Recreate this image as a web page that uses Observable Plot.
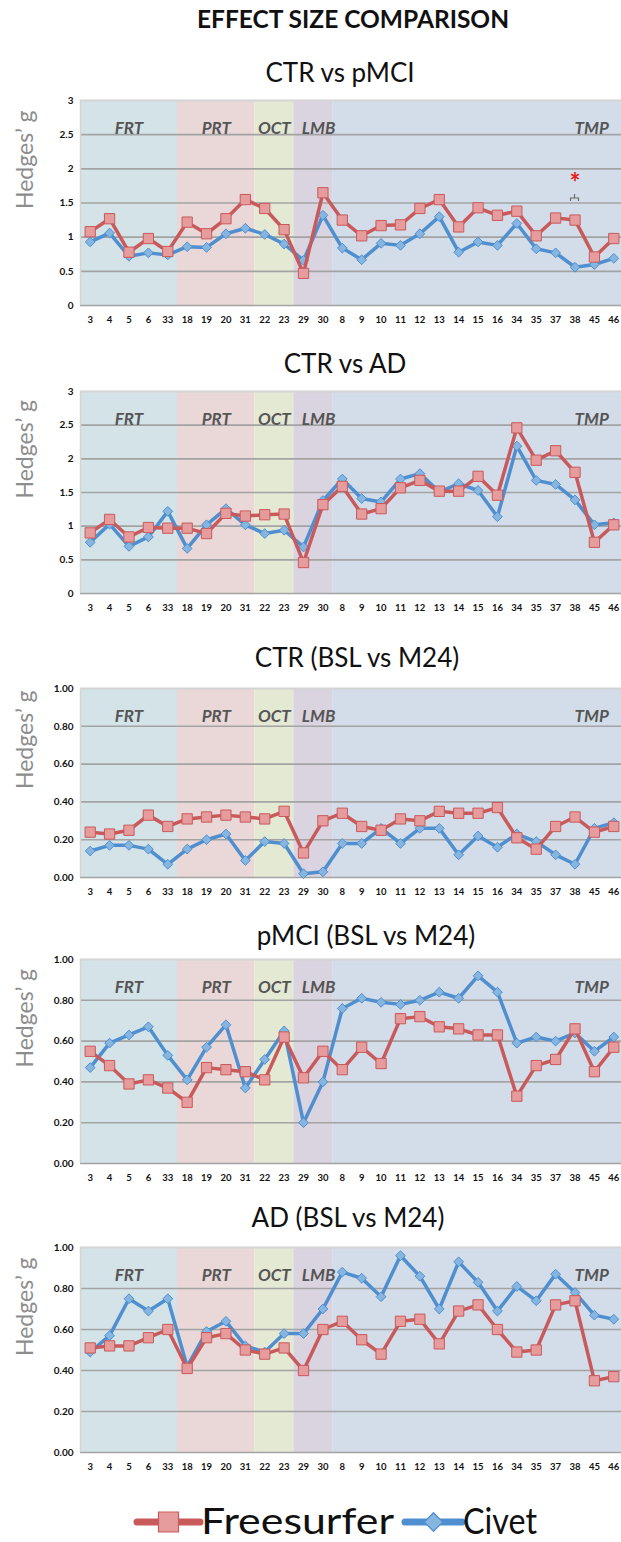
<!DOCTYPE html>
<html><head><meta charset="utf-8">
<script src="https://cdn.jsdelivr.net/npm/d3@7"></script>
<script src="https://cdn.jsdelivr.net/npm/@observablehq/plot@0.6"></script>
<style>
html,body{margin:0;padding:0;background:#fff;}
#root{position:relative;width:621px;height:1542px;overflow:hidden;font-family:Lato,"Open Sans",sans-serif;}
.t{position:absolute;white-space:nowrap;transform:translateX(-50%);color:#111;line-height:1;}
.main{font-weight:bold;font-size:24.5px;}
.sub{font-size:26px;}
svg.p{position:absolute;left:0;}
svg.p [aria-label="y-axis tick label"], svg.p [aria-label="x-axis tick label"]{font-weight:bold;}
</style></head><body><div id="root"></div>
<script>
// ---------- data ----------
const cats = ["3","4","5","6","33","18","19","20","31","22","23","29","30","8","9","10","11","12","13","14","15","16","34","35","37","38","45","46"];
const regionNames = ["FRT","PRT","OCT","LMB","TMP"];
const regionSizes = [5,4,2,2,15];
const seriesNames = ["Freesurfer","Civet"];

const p1Free  = [1.08,1.27,0.78,0.98,0.79,1.22,1.05,1.27,1.55,1.42,1.11,0.47,1.65,1.25,1.02,1.17,1.18,1.42,1.55,1.15,1.43,1.32,1.38,1.02,1.28,1.25,0.71,0.98];
const p1Civet = [0.93,1.06,0.72,0.77,0.74,0.86,0.85,1.05,1.13,1.04,0.90,0.66,1.32,0.84,0.67,0.91,0.88,1.05,1.30,0.78,0.93,0.88,1.20,0.83,0.77,0.56,0.60,0.69];
const p2Free  = [0.90,1.10,0.84,0.98,0.97,0.97,0.89,1.19,1.15,1.17,1.18,0.46,1.32,1.59,1.18,1.26,1.57,1.68,1.52,1.52,1.74,1.46,2.46,1.98,2.12,1.80,0.76,1.02];
const p2Civet = [0.76,1.03,0.70,0.84,1.22,0.67,1.02,1.26,1.02,0.89,0.94,0.69,1.38,1.70,1.41,1.36,1.70,1.78,1.51,1.63,1.53,1.14,2.19,1.68,1.62,1.39,1.02,1.05];
const p3Free  = [0.24,0.23,0.25,0.33,0.27,0.31,0.32,0.33,0.32,0.31,0.35,0.13,0.30,0.34,0.27,0.25,0.31,0.30,0.35,0.34,0.34,0.37,0.21,0.15,0.27,0.32,0.24,0.27];
const p3Civet = [0.14,0.17,0.17,0.15,0.07,0.15,0.20,0.23,0.09,0.19,0.18,0.02,0.03,0.18,0.18,0.26,0.18,0.26,0.26,0.12,0.22,0.16,0.23,0.19,0.12,0.07,0.26,0.29];
const p4Free  = [0.55,0.48,0.39,0.41,0.37,0.30,0.47,0.46,0.45,0.41,0.62,0.42,0.55,0.46,0.57,0.49,0.71,0.72,0.67,0.66,0.63,0.63,0.33,0.48,0.51,0.66,0.45,0.57];
const p4Civet = [0.47,0.59,0.63,0.67,0.53,0.41,0.57,0.68,0.37,0.51,0.65,0.20,0.40,0.76,0.81,0.79,0.78,0.80,0.84,0.81,0.92,0.84,0.59,0.62,0.60,0.64,0.55,0.62];
const p5Free  = [0.51,0.52,0.52,0.56,0.60,0.41,0.56,0.58,0.50,0.48,0.51,0.40,0.60,0.64,0.55,0.48,0.64,0.65,0.53,0.69,0.72,0.60,0.49,0.50,0.72,0.74,0.35,0.37];
const p5Civet = [0.49,0.57,0.75,0.69,0.75,0.42,0.59,0.64,0.52,0.49,0.58,0.58,0.70,0.88,0.85,0.76,0.96,0.86,0.70,0.93,0.83,0.69,0.81,0.74,0.87,0.78,0.67,0.65];

const ticks3 = [0,0.5,1,1.5,2,2.5,3];
const ticks1 = [0,0.2,0.4,0.6,0.8,1];
const titles = ["CTR vs pMCI","CTR vs AD","CTR (BSL vs M24)","pMCI (BSL vs M24)","AD (BSL vs M24)"];
const mainTitle = "EFFECT SIZE COMPARISON";
const yLabel = "Hedges\u2019 g";
const starIndex = 25, starValue = 1.87, braceValue = 1.58;

// ---------- styles ----------
const regionFill = {FRT:"#d3e3e8", PRT:"#e9d8d7", OCT:"#e4e9d4", LMB:"#dad3e0", TMP:"#d3dde9"};
const redLine = "#c85a5c", redFill = "#e69c9c";
const blueLine = "#4f8fcf", blueFill = "#86b5e0";

const root = document.getElementById("root");
function addText(txt, cls, cx, top){
  const d = document.createElement("div");
  d.className = "t " + cls; d.textContent = txt;
  d.style.left = cx + "px"; d.style.top = top + "px";
  root.appendChild(d);
}
addText(mainTitle, "main", 353, 7);

const panels = [
  {free:p1Free, civet:p1Civet, ymax:3, ticks:ticks3, fmt:d=>String(d), top:100, bottom:305, titleTop:59, titleX:340, star:true},
  {free:p2Free, civet:p2Civet, ymax:3, ticks:ticks3, fmt:d=>String(d), top:391, bottom:593, titleTop:350, titleX:345},
  {free:p3Free, civet:p3Civet, ymax:1, ticks:ticks1, fmt:d3.format(".2f"), top:688, bottom:877, titleTop:644, titleX:357},
  {free:p4Free, civet:p4Civet, ymax:1, ticks:ticks1, fmt:d3.format(".2f"), top:959, bottom:1163, titleTop:922, titleX:366},
  {free:p5Free, civet:p5Civet, ymax:1, ticks:ticks1, fmt:d3.format(".2f"), top:1247, bottom:1452, titleTop:1204, titleX:348}
];

const regions = [];
{ let s = 0; regionNames.forEach((n,k)=>{ regions.push({name:n, start:s, end:s+regionSizes[k]-1}); s += regionSizes[k]; }); }

panels.forEach((p, k) => {
  addText(titles[k], "sub", p.titleX, p.titleTop);
  const rows = cats.map((c,i)=>({i, c, free:p.free[i], civet:p.civet[i]}));
  const h = p.bottom - p.top;
  const mt = 10, mb = 32;
  const marks = [
    Plot.rect(regions, {x1:d=>d.start-0.5, x2:d=>d.end+0.5, y1:0, y2:p.ymax, fill:d=>regionFill[d.name]}),
    Plot.ruleY(p.ticks.filter(t=>t<p.ymax), {stroke:"#a3a3a3", strokeWidth:1.6}),
    Plot.ruleY([p.ymax], {stroke:"#d4d4d4", strokeWidth:2}),
    Plot.ruleX([-0.5], {y1:0, y2:p.ymax, stroke:"#d4d4d4", strokeWidth:1.5}),
    Plot.axisY({ticks:p.ticks, tickFormat:p.fmt, tickSize:0, tickPadding:7, fontSize:10, label:null, fill:"#111"}),
    Plot.axisX({ticks:d3.range(cats.length), tickFormat:i=>cats[i], tickSize:0, tickPadding:11, fontSize:9.5, label:null, fill:"#111"}),
    Plot.text(regions.filter(d=>d.name!=="LMB" && d.name!=="TMP"), {x:d=>(d.start+d.end)/2, text:"name", frameAnchor:"top", dy:21, fontSize:17, fontWeight:"bold", fontStyle:"italic", fill:"#555"}),
    Plot.text(regions.filter(d=>d.name==="LMB"), {x:d=>d.start-0.5, text:"name", frameAnchor:"top", dy:21, dx:8, textAnchor:"start", fontSize:17, fontWeight:"bold", fontStyle:"italic", fill:"#555"}),
    Plot.text(regions.filter(d=>d.name==="TMP"), {x:d=>d.end, text:"name", frameAnchor:"top", dy:21, dx:-5, textAnchor:"end", fontSize:17, fontWeight:"bold", fontStyle:"italic", fill:"#555"}),
    Plot.line(rows, {x:"i", y:"civet", stroke:blueLine, strokeWidth:3.5}),
    Plot.dot(rows, {x:"i", y:"civet", symbol:"diamond2", r:4.4, fill:blueFill, stroke:blueLine, strokeWidth:1}),
    Plot.line(rows, {x:"i", y:"free", stroke:redLine, strokeWidth:3.5}),
    Plot.dot(rows, {x:"i", y:"free", symbol:"square", r:5.8, fill:redFill, stroke:redLine, strokeWidth:1}),
    Plot.text([yLabel], {frameAnchor:"left", rotate:-90, dx:-55, dy:6, fontSize:23, fill:"#8d8d8d"})
  ];
  if (p.star) {
    marks.push(Plot.text(["*"], {x:[starIndex], y:[starValue], text:d=>d, fontSize:26, fontWeight:"bold", fill:"#e8201c", dy:6}));
    marks.push((index, scales) => {
      const x = scales.x(starIndex), y = scales.y(braceValue);
      const path = d3.create("svg:path")
        .attr("d", `M${x-4},${y+4}V${y+1}H${x+4}V${y+4}M${x},${y+1}V${y-3}`)
        .attr("fill","none").attr("stroke","#666").attr("stroke-width",1.1);
      return path.node();
    });
  }
  const svg = Plot.plot({
    width:621, height:h+mt+mb, marginTop:mt, marginBottom:mb, marginLeft:80, marginRight:0,
    style:{fontFamily:"Lato, sans-serif", background:"transparent", overflow:"visible"},
    x:{type:"linear", domain:[-0.5, cats.length-0.5], range:[80, 623]},
    y:{domain:[0, p.ymax]},
    marks
  });
  svg.classList.add("p");
  svg.style.top = (p.top - mt) + "px";
  root.appendChild(svg);
});

// ---------- legend ----------
const leg = d3.select(root).append("svg").attr("width",621).attr("height",56)
  .style("position","absolute").style("left","0px").style("top","1486px");
const legItems = [
  {name:seriesNames[0], x0:137, x1:200, len:193, line:redLine, fill:redFill, sym:d3.symbolSquare, size:400},
  {name:seriesNames[1], x0:405, x1:462, len:74, line:blueLine, fill:blueFill, sym:d3.symbolDiamond2, size:220}
];
legItems.forEach(it => {
  const cy = 36;
  leg.append("line").attr("x1",it.x0).attr("x2",it.x1).attr("y1",cy).attr("y2",cy)
    .attr("stroke",it.line).attr("stroke-width",7).attr("stroke-linecap","round");
  leg.append("path").attr("d", d3.symbol(it.sym, it.size)()).attr("transform",`translate(${(it.x0+it.x1)/2},${cy})`)
    .attr("fill",it.fill).attr("stroke",it.line).attr("stroke-width",1.2);
  leg.append("text").attr("x",it.x1+1).attr("y",cy+12).attr("font-size",36).attr("font-family","Lato, sans-serif")
    .attr("textLength",it.len).attr("lengthAdjust","spacingAndGlyphs")
    .attr("fill","#111").text(it.name);
});
</script>
</body></html>
